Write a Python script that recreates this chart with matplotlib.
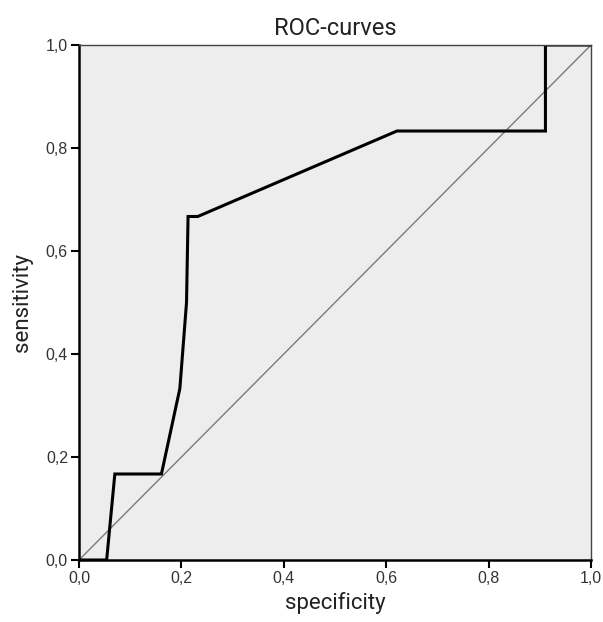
import matplotlib.pyplot as plt
from matplotlib.ticker import FuncFormatter

# ROC curve points
specificity = [0.0, 0.054, 0.070, 0.161, 0.197, 0.210, 0.213, 0.232, 0.621, 0.911, 0.911, 1.0]
sensitivity = [0.0, 0.0, 0.167, 0.167, 0.333, 0.500, 0.667, 0.667, 0.833, 0.833, 1.0, 1.0]
ref_line = [0.0, 1.0]
ticks = [0.0, 0.2, 0.4, 0.6, 0.8, 1.0]

narrow = ['Liberation Sans Narrow', 'Roboto', 'DejaVu Sans']

fig = plt.figure(figsize=(6.03, 6.22), dpi=100)
ax = fig.add_axes([79 / 603, 62 / 622, 512 / 603, 515 / 622])
ax.set_facecolor('#ededed')

ax.plot(ref_line, ref_line, color='#7a7a7a', linewidth=1.0)
ax.plot(specificity, sensitivity, color='black', linewidth=2.2, solid_joinstyle='miter')

ax.set_xlim(0, 1)
ax.set_ylim(0, 1)
ax.set_xticks(ticks)
ax.set_yticks(ticks)
fmt = FuncFormatter(lambda v, p: ('%.1f' % v).replace('.', ','))
ax.xaxis.set_major_formatter(fmt)
ax.yaxis.set_major_formatter(fmt)
ax.tick_params(direction='out', length=6, width=1.5, labelsize=11.5, colors='black', pad=2)
for lbl in ax.get_xticklabels() + ax.get_yticklabels():
    lbl.set_family(['Liberation Sans', 'DejaVu Sans'])
    lbl.set_color('#333333')

ax.spines['left'].set_linewidth(1.8)
ax.spines['bottom'].set_linewidth(1.8)
ax.spines['top'].set_linewidth(1.0)
ax.spines['right'].set_linewidth(1.0)
ax.spines['top'].set_color('#444444')
ax.spines['right'].set_color('#444444')

ax.set_title('ROC-curves', fontsize=17, family=narrow, color='#222222', pad=7)
ax.set_xlabel('specificity', fontsize=16, family=narrow, color='#222222', labelpad=4)
ax.set_ylabel('sensitivity', fontsize=16, family=narrow, color='#222222', labelpad=9)

fig.savefig('out.png', dpi=100)
